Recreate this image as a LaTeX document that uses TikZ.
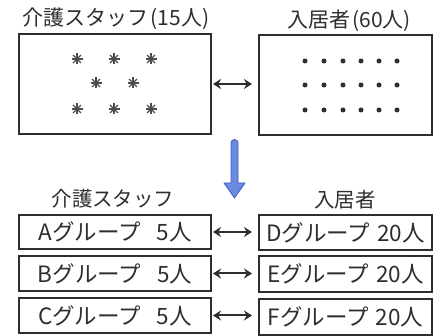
\documentclass[tikz,border=0pt]{standalone}
\usepackage{fontspec}
\setmainfont{Noto Sans CJK JP}
\usetikzlibrary{arrows.meta}
\definecolor{ink}{HTML}{2E2E2E}
\definecolor{blueF}{HTML}{6C8AE2}
\definecolor{blueD}{HTML}{3F5CC6}
\tikzset{
  box/.style={draw=ink, line width=1.4pt, inner sep=0pt, outer sep=0pt, anchor=north west},
  lbl/.style={font=\fontsize{21}{25}\selectfont, text=ink, inner sep=0pt},
  btxt/.style={font=\fontsize{22.5}{26}\selectfont, text=ink},
  dbl/.style={{Stealth[length=8pt,width=10pt]}-{Stealth[length=8pt,width=10pt]}, line width=2pt, draw=ink},
  ast/.pic={\foreach \a in {0,45,90,135} \draw[line width=1.3pt, ink!85] (\a:5.5) -- (\a+180:5.5);}
}
\begin{document}
\begin{tikzpicture}[x=1pt,y=-1pt]
\useasboundingbox (0,0) rectangle (434,336);
% top labels
\node[lbl] (t1) at (116,19) {介護スタッフ\hspace{0.1em}(15人)};
\node[lbl] (t2) at (349,21) {入居者\hspace{0.1em}(60人)};
% top boxes
\node[box, minimum width=192pt, minimum height=100pt] (S) at (19,34) {};
\node[box, minimum width=173pt, minimum height=100pt] (R) at (259,35) {};
% asterisks
\foreach \x/\y in {77/59,114/59,151/59,96/83,133/83,77/109,114/109,151/109}
  \pic at (\x,\y) {ast};
% dots
\foreach \y in {61,85,110}
  \foreach \x in {305,324,343,361,379,397}
    \fill[ink] (\x,\y) circle (2.5pt);
% top double arrow
\draw[dbl] ([xshift=2pt]S.east) -- ([xshift=-7pt]S.east -| R.west);
% blue arrow
\coordinate (bt) at (234.5,140);
\draw[fill=blueF, draw=blueD, line width=0.8pt, line join=round]
  (231,183) -- (231,143) arc (180:360:3.5) -- (238,183) -- (245,183)
  -- (234.5,198) -- (224,183) -- cycle;
% bottom labels
\node[lbl, font=\fontsize{20.5}{24}\selectfont] (b1) at (113,199) {介護スタッフ};
\node[lbl, font=\fontsize{20.5}{24}\selectfont] (b2) at (345,200) {入居者};
% bottom boxes
\node[box, btxt, minimum width=192pt, minimum height=34pt] (A) at (19,215) {Aグループ\hspace{0.7em}5人};
\node[box, btxt, minimum width=192pt, minimum height=35pt] (B) at (19,256) {Bグループ\hspace{0.7em}5人};
\node[box, btxt, minimum width=192pt, minimum height=35pt] (C) at (19,298) {Cグループ\hspace{0.7em}5人};
\node[box, btxt, minimum width=173pt, minimum height=35pt] (D) at (259,215) {Dグループ\hspace{0.3em}20人};
\node[box, btxt, minimum width=173pt, minimum height=36pt] (E) at (259,256) {Eグループ\hspace{0.3em}20人};
\node[box, btxt, minimum width=173pt, minimum height=36pt] (F) at (259,299) {Fグループ\hspace{0.3em}20人};
\foreach \l/\r in {A/D,B/E,C/F}
  \draw[dbl] ([xshift=2pt]\l.east) -- ([xshift=-7pt]\l.east -| \r.west);
\end{tikzpicture}
\end{document}
